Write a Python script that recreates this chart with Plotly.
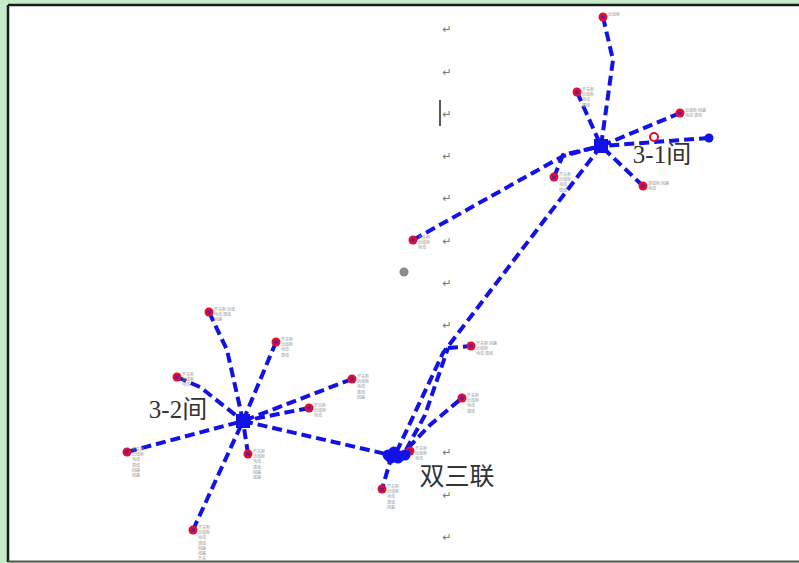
import plotly.graph_objects as go

W, H = 799, 563

# ---- data: node positions (page pixel coordinates of the diagram) ----
hub_names = ["3-1间", "3-2间", "双三联"]
hub_x = [601, 243, 396]
hub_y = [146, 421, 455]
hub_label_x = [662, 178, 457]
hub_label_y = [157, 412, 479]

leaf_x = [603, 577, 680, 643, 554, 413,
          209, 276, 177, 352, 309, 127, 248, 193,
          382, 410, 471, 462]
leaf_y = [17, 92, 113, 186, 177, 240,
          312, 342, 377, 379, 408, 452, 454, 530,
          489, 451, 346, 398]
leaf_text = ["出线柜", "开关柜<br>出线柜<br>电缆<br>馈线", "出线柜 回路<br>电缆 馈线", "馈线柜 回路<br>电缆", "开关柜<br>出线柜<br>电缆<br>馈线", "开关柜<br>出线柜<br>电缆",
             "开关柜 出线<br>电缆 馈线<br>回路", "开关柜<br>出线柜<br>电缆<br>馈线", "开关柜<br>出线柜<br>电缆", "开关柜<br>出线柜<br>电缆<br>馈线<br>回路",
             "开关柜<br>出线柜<br>电缆", "开关柜<br>出线柜<br>电缆<br>馈线<br>回路<br>线路", "开关柜<br>出线柜<br>电缆<br>馈线<br>回路<br>线路",
             "开关柜<br>出线柜<br>电缆<br>馈线<br>回路<br>线路<br>开关",
             "开关柜<br>出线柜<br>电缆<br>馈线<br>回路", "开关柜<br>出线柜<br>电缆", "开关柜 回路<br>出线柜<br>电缆 馈线", "开关柜<br>出线柜<br>电缆<br>馈线"]

end_x = [709]
end_y = [138]
open_x = [654]
open_y = [137]

# edges as polylines
edges_x = [
    [603, 613, 601], [577, 601], [680, 601], [709, 601], [643, 601],
    [554, 563, 601], [413, 563, 601],
    [601, 497, 443, 396], [406, 425, 448], [448, 471], [408, 430, 462], [392, 382],
    [243, 390],
    [209, 227, 243], [276, 243], [177, 200, 243], [352, 243], [309, 243],
    [127, 243], [248, 243], [193, 243],
]
edges_y = [
    [17, 60, 146], [92, 146], [113, 146], [138, 146], [186, 146],
    [177, 155, 146], [240, 156, 146],
    [146, 283, 353, 453], [450, 415, 348], [348, 346], [448, 425, 398], [455, 489],
    [421, 455],
    [312, 350, 421], [342, 421], [377, 387, 421], [379, 421], [408, 421],
    [452, 421], [454, 421], [530, 421],
]

# paragraph marks in the page behind the diagram
mark_x = [447] * 11
mark_y = [30, 73, 115, 157, 199, 242, 284, 326, 453, 496, 538]

blob_x = [388, 394, 400, 405, 391, 398]
blob_y = [455, 452, 456, 455, 458, 458]

BLUE = "#1212e6"

fig = go.Figure()

for ex, ey in zip(edges_x, edges_y):
    fig.add_trace(go.Scatter(x=ex, y=ey, mode="lines",
                             line=dict(color=BLUE, width=4, dash="10px,5px"),
                             hoverinfo="skip", showlegend=False))

# paragraph marks
fig.add_trace(go.Scatter(x=mark_x, y=mark_y, mode="text", text=["↵"] * len(mark_x),
                         textfont=dict(size=11, color="#777777", family="DejaVu Sans"),
                         showlegend=False, hoverinfo="skip"))

# leaf labels
fig.add_trace(go.Scatter(x=[x + 5 for x in leaf_x], y=[y - 4 for y in leaf_y], mode="text",
                         text=leaf_text, textposition="bottom right",
                         textfont=dict(size=4, color="#9a9a9a", family="Noto Sans CJK SC"),
                         showlegend=False, hoverinfo="skip"))

# leaves
fig.add_trace(go.Scatter(x=leaf_x, y=leaf_y, mode="markers",
                         marker=dict(size=9, color="#e0102e", line=dict(width=0)),
                         showlegend=False, hoverinfo="skip"))
fig.add_trace(go.Scatter(x=leaf_x, y=leaf_y, mode="markers",
                         marker=dict(size=4, color="#6a1a9a", line=dict(width=0)),
                         showlegend=False, hoverinfo="skip"))
fig.add_trace(go.Scatter(x=end_x, y=end_y, mode="markers",
                         marker=dict(size=9, color=BLUE),
                         showlegend=False, hoverinfo="skip"))
fig.add_trace(go.Scatter(x=open_x, y=open_y, mode="markers",
                         marker=dict(size=8, color="white", line=dict(color="#e0102e", width=2)),
                         showlegend=False, hoverinfo="skip"))
# gray dot
fig.add_trace(go.Scatter(x=[404], y=[272], mode="markers",
                         marker=dict(size=9, color="#8c8c8c"),
                         showlegend=False, hoverinfo="skip"))

# hubs
fig.add_trace(go.Scatter(x=hub_x[:2], y=hub_y[:2], mode="markers",
                         marker=dict(size=14, color=BLUE, symbol="square"),
                         showlegend=False, hoverinfo="skip"))
fig.add_trace(go.Scatter(x=blob_x, y=blob_y, mode="markers",
                         marker=dict(size=11, color=BLUE),
                         showlegend=False, hoverinfo="skip"))

# hub labels
fig.add_trace(go.Scatter(x=hub_label_x, y=hub_label_y, mode="text", text=hub_names,
                         textfont=dict(size=25, color="#333333",
                                       family="Liberation Serif, Noto Sans CJK SC"),
                         showlegend=False, hoverinfo="skip"))

# cursor bar
fig.add_shape(type="line", x0=440, x1=440, y0=100, y1=126,
              line=dict(color="#222222", width=1.5), layer="above")

# page frame
fig.add_shape(type="rect", x0=8, x1=W + 5, y0=5, y1=562, fillcolor="white",
              line=dict(width=0), layer="below")
fig.add_shape(type="line", x0=8, x1=W + 5, y0=5, y1=5, line=dict(color="#1a1a1a", width=2.5), layer="below")
fig.add_shape(type="line", x0=8, x1=8, y0=5, y1=562, line=dict(color="#1a1a1a", width=2.5), layer="below")
fig.add_shape(type="line", x0=8, x1=W + 5, y0=561.5, y1=561.5, line=dict(color="#555555", width=2), layer="below")

fig.update_layout(
    width=W, height=H,
    margin=dict(l=0, r=0, t=0, b=0),
    paper_bgcolor="#c6ebc8", plot_bgcolor="#c6ebc8",
    xaxis=dict(range=[0, W], visible=False, fixedrange=True),
    yaxis=dict(range=[H, 0], visible=False, fixedrange=True),
    showlegend=False,
)

fig.write_html(
    "out.html",
    config={"displayModeBar": False},
    post_script="document.body.style.margin='0';document.body.style.overflow='hidden';"
                "document.body.style.background='#c6ebc8';",
)
